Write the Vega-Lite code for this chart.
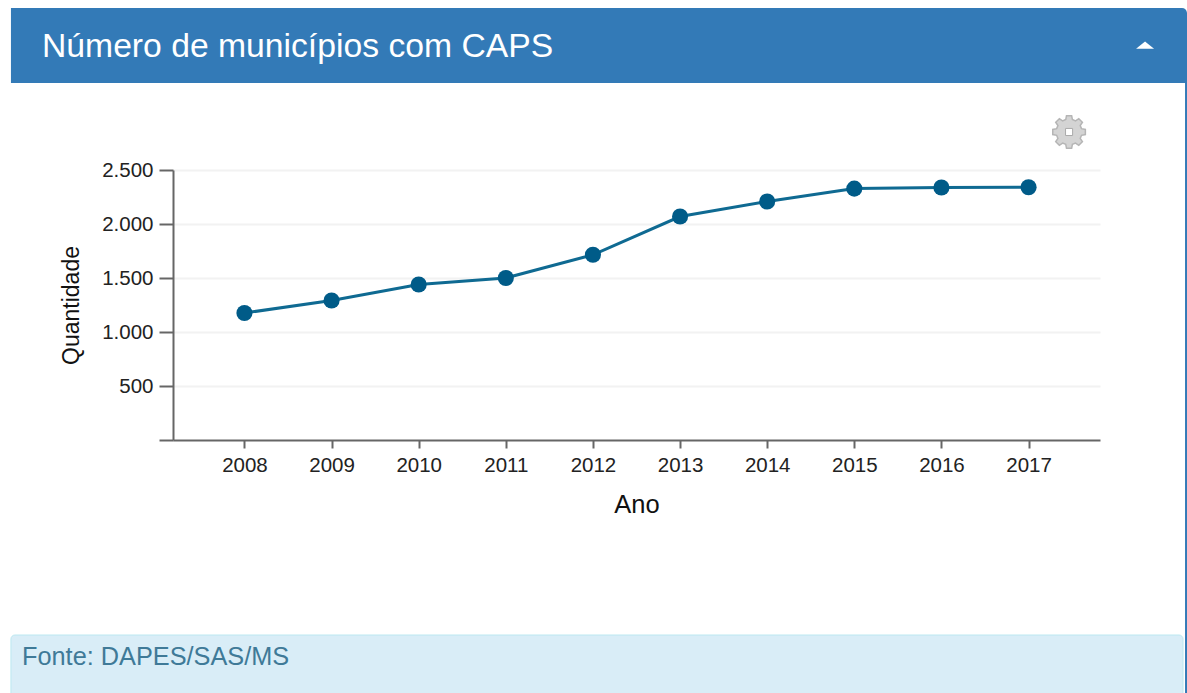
{
  "$schema": "https://vega.github.io/schema/vega-lite/v6.json",
  "autosize": "none",
  "width": 927,
  "height": 270,
  "padding": {"left": 173, "top": 170, "right": 87, "bottom": 253},
  "background": "white",
  "view": {"stroke": null},
  "title": {"text": "Número de municípios com CAPS", "anchor": "start", "frame": "group", "dx": -131, "offset": 0, "dy": 56, "color": "white", "font": "Liberation Sans", "fontSize": 33.7, "fontWeight": "normal"},
  "data": {"values": [
    {"ano": 2008, "quantidade": 1176},
    {"ano": 2009, "quantidade": 1292},
    {"ano": 2010, "quantidade": 1440},
    {"ano": 2011, "quantidade": 1500},
    {"ano": 2012, "quantidade": 1715},
    {"ano": 2013, "quantidade": 2069},
    {"ano": 2014, "quantidade": 2208},
    {"ano": 2015, "quantidade": 2328},
    {"ano": 2016, "quantidade": 2338},
    {"ano": 2017, "quantidade": 2340}
  ]},
  "layer": [
    {
      "mark": {"type": "line", "color": "#0f6a92", "strokeWidth": 3},
      "encoding": {
        "x": {
          "field": "ano", "type": "quantitative", "title": "Ano",
          "scale": {"domain": [2007.18, 2017.82], "nice": false, "zero": false},
          "axis": {
            "values": [2008, 2009, 2010, 2011, 2012, 2013, 2014, 2015, 2016, 2017],
            "format": "d", "grid": false,
            "domainColor": "#666666", "domainWidth": 2, "tickColor": "#666666", "tickWidth": 2, "tickSize": 8,
            "labelFont": "Liberation Sans", "labelFontSize": 20.5, "labelColor": "#222222", "labelPadding": 7,
            "titleFont": "Liberation Sans", "titleFontSize": 25.5, "titleFontWeight": "normal", "titleColor": "#111111", "titlePadding": 17
          }
        },
        "y": {
          "field": "quantidade", "type": "quantitative", "title": "Quantidade",
          "scale": {"domain": [0, 2500], "nice": false},
          "axis": {
            "values": [0, 250, 500, 750, 1000, 1250, 1500, 1750, 2000, 2250, 2500],
            "labelExpr": "datum.value === 0 || datum.value % 500 !== 0 ? '' : replace(format(datum.value, ','), ',', '.')",
            "grid": true, "gridColor": "#f2f2f2", "gridWidth": 2,
            "gridOpacity": {"expr": "datum.value % 500 === 0 && datum.value > 0 ? 1 : 0"},
            "domainColor": "#666666", "domainWidth": 2, "tickColor": "#666666", "tickWidth": 2,
            "tickSize": {"expr": "datum.value % 500 === 0 ? 14 : 7"},
            "labelFont": "Liberation Sans", "labelFontSize": 20.5, "labelColor": "#222222", "labelPadding": 6, "labelOverlap": false,
            "titleFont": "Liberation Sans", "titleFontSize": 23, "titleFontWeight": "normal", "titleColor": "#111111", "titlePadding": 18
          }
        }
      }
    },
    {
      "mark": {"type": "point", "filled": true, "opacity": 1, "color": "#005b88", "size": 260},
      "encoding": {
        "x": {"field": "ano", "type": "quantitative"},
        "y": {"field": "quantidade", "type": "quantitative"}
      }
    },
    {
      "data": {"values": [{"painel": "cabecalho"}]},
      "mark": {"type": "rect", "color": "#337ab7", "cornerRadiusTopRight": 5},
      "encoding": {
        "x": {"datum": 2005.32, "type": "quantitative"},
        "x2": {"datum": 2018.819},
        "y": {"datum": 4000, "type": "quantitative"},
        "y2": {"datum": 3305.6}
      }
    },
    {
      "data": {"values": [{"painel": "borda"}]},
      "mark": {"type": "rect", "color": "#337ab7"},
      "encoding": {
        "x": {"datum": 2018.796, "type": "quantitative"},
        "x2": {"datum": 2018.819},
        "y": {"datum": 3305.6, "type": "quantitative"},
        "y2": {"datum": -2342.6}
      }
    },
    {
      "data": {"values": [{"painel": "rodape"}]},
      "mark": {"type": "rect", "color": "#d9edf7", "stroke": "#bce8f1", "strokeWidth": 1, "cornerRadiusTopLeft": 4, "cornerRadiusTopRight": 4},
      "encoding": {
        "x": {"datum": 2005.32, "type": "quantitative"},
        "x2": {"datum": 2018.773},
        "y": {"datum": -1805.6, "type": "quantitative"},
        "y2": {"datum": -2400}
      }
    },
    {
      "data": {"values": [{"texto": "Fonte: DAPES/SAS/MS"}]},
      "mark": {"type": "text", "align": "left", "baseline": "alphabetic", "font": "Liberation Sans", "fontSize": 25.3, "color": "#3f7a98"},
      "encoding": {
        "x": {"datum": 2005.447, "type": "quantitative"},
        "y": {"datum": -2085, "type": "quantitative"},
        "text": {"field": "texto"}
      }
    },
    {
      "data": {"values": [{"icone": "recolher"}]},
      "mark": {"type": "point", "filled": true, "opacity": 1, "color": "white", "size": 324, "shape": "M-1,0.4L1,0.4L0,-0.4Z"},
      "encoding": {
        "x": {"datum": 2018.337, "type": "quantitative"},
        "y": {"datum": 3657, "type": "quantitative"}
      }
    },
    {
      "data": {"values": [{"icone": "engrenagem"}]},
      "mark": {"type": "point", "filled": true, "opacity": 1, "color": "#d4d4d4", "stroke": "#b5b5b5", "strokeWidth": 1.5, "size": 1089, "shape": "M.988,-.156L.988,.156L.753,.202L.675,.39L.809,.588L.588,.809L.39,.675L.202,.753L.156,.988L-.156,.988L-.202,.753L-.39,.675L-.588,.809L-.809,.588L-.675,.39L-.753,.202L-.988,.156L-.988,-.156L-.753,-.202L-.675,-.39L-.809,-.588L-.588,-.809L-.39,-.675L-.202,-.753L-.156,-.988L.156,-.988L.202,-.753L.39,-.675L.588,-.809L.809,-.588L.675,-.39L.753,-.202Z"},
      "encoding": {
        "x": {"datum": 2017.465, "type": "quantitative"},
        "y": {"datum": 2852, "type": "quantitative"}
      }
    },
    {
      "data": {"values": [{"icone": "engrenagem-centro"}]},
      "mark": {"type": "point", "filled": true, "opacity": 1, "color": "white", "stroke": "#aaaaaa", "strokeWidth": 1, "size": 50, "shape": "square"},
      "encoding": {
        "x": {"datum": 2017.465, "type": "quantitative"},
        "y": {"datum": 2852, "type": "quantitative"}
      }
    }
  ]
}
